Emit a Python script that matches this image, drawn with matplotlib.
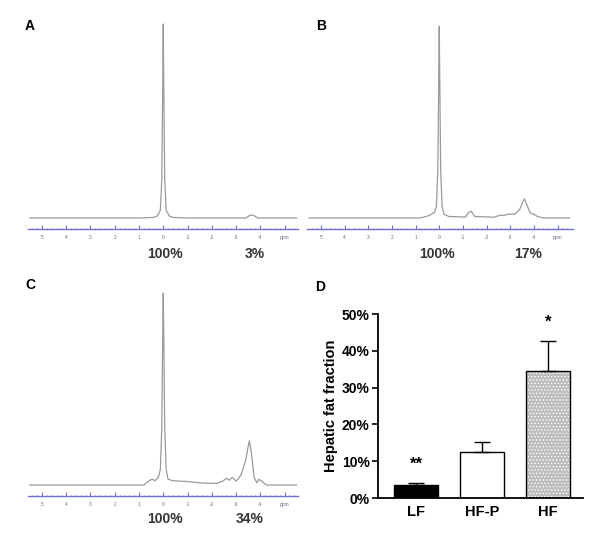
import numpy as np
import matplotlib.pyplot as plt

plt.rcParams['font.family'] = ['Liberation Sans', 'DejaVu Sans']
plt.rcParams['hatch.linewidth'] = 0.6

# spectra: (ppm, intensity relative to water peak)
ppm_a = [5.5, 1.0, 0.4, 0.25, 0.12, 0.06, 0.02, 0.0, -0.02, -0.06, -0.12, -0.25, -0.4, -1.0,
         -3.4, -3.55, -3.65, -3.75, -3.9, -5.5]
int_a = [0.0, 0.0, 0.003, 0.01, 0.04, 0.2, 0.7, 1.0, 0.7, 0.2, 0.04, 0.01, 0.003, 0.0,
         0.0, 0.012, 0.016, 0.012, 0.0, 0.0]

ppm_b = [5.5, 0.8, 0.5, 0.35, 0.2, 0.12, 0.06, 0.02, 0.0, -0.02, -0.06, -0.12, -0.2, -0.4,
         -1.1, -1.25, -1.35, -1.5, -2.3, -2.6, -2.75, -2.9, -3.2, -3.4, -3.5, -3.6, -3.7,
         -3.85, -4.0, -4.15, -4.4, -5.5]
int_b = [0.0, 0.0, 0.01, 0.018, 0.03, 0.06, 0.25, 0.75, 1.0, 0.75, 0.25, 0.06, 0.02, 0.008,
         0.005, 0.03, 0.035, 0.008, 0.004, 0.015, 0.013, 0.02, 0.02, 0.045, 0.075, 0.1, 0.07,
         0.025, 0.02, 0.008, 0.0, 0.0]

ppm_c = [5.5, 0.8, 0.55, 0.45, 0.35, 0.2, 0.12, 0.06, 0.02, 0.0, -0.02, -0.06, -0.12, -0.2,
         -0.4, -1.0, -1.6, -2.2, -2.45, -2.6, -2.72, -2.85, -3.0, -3.2, -3.4, -3.5, -3.55,
         -3.62, -3.75, -3.85, -3.95, -4.05, -4.25, -5.5]
int_c = [0.0, 0.0, 0.025, 0.03, 0.022, 0.04, 0.08, 0.3, 0.8, 1.0, 0.8, 0.3, 0.08, 0.03,
         0.022, 0.018, 0.01, 0.008, 0.02, 0.035, 0.025, 0.04, 0.02, 0.05, 0.13, 0.2, 0.23,
         0.18, 0.04, 0.012, 0.03, 0.02, 0.0, 0.0]

ppm_ticks = [5, 4, 3, 2, 1, 0, -1, -2, -3, -4, -5]
ppm_labels = ['5', '4', '3', '2', '1', '0', '-1', '-2', '-3', '-4', 'ppm']

# bar chart
groups = ['LF', 'HF-P', 'HF']
fat_mean = [3.4, 12.4, 34.6]
fat_err = [0.8, 2.7, 8.1]
stars = ['**', '', '*']

fig = plt.figure(figsize=(6, 5.38), dpi=100)
H = 538.0

blue = '#6f6fd8'
trace = '#9a9a9a'


def spectrum(x0, x1, y_axis, y_base, y_peak, ppm, inten, pcts, pct_x, pct_y):
    unit = y_base - y_peak
    lo = -(y_axis - y_base) / unit
    top = y_peak - 6
    ax = fig.add_axes([x0 / 600, (H - y_axis) / H, (x1 - x0) / 600, (y_axis - top) / H])
    ax.plot(ppm, inten, color=trace, lw=0.9)
    ax.set_ylim(lo, (y_base - top) / unit)
    for s in ['top', 'right', 'left']:
        ax.spines[s].set_visible(False)
    ax.spines['bottom'].set_color(blue)
    ax.spines['bottom'].set_linewidth(1.0)
    ax.set_yticks([])
    ax.set_xticks(ppm_ticks)
    ax.set_xticklabels(ppm_labels, fontsize=3.5, color='#6a6a8a')
    ax.set_xticks(np.arange(-5.4, 5.5, 0.2), minor=True)
    ax.tick_params(axis='x', which='major', direction='in', length=3, color=blue, pad=4)
    ax.tick_params(axis='x', which='minor', direction='in', length=1, color=blue)
    for t, px in zip(pcts, pct_x):
        fig.text(px / 600, 1 - pct_y / H, t, fontsize=10, fontweight='bold', ha='center',
                 va='center', color='#333333')
    return ax


axA = spectrum(28, 298, 229, 218, 24, ppm_a, int_a, ['100%', '3%'], [165, 255], 254)
axA.set_xlim(5 + (42 - 28) / 24.3, -(298 - 163) / 24.3)
axB = spectrum(307, 573, 229, 218, 26, ppm_b, int_b, ['100%', '17%'], [437, 528], 254)
axB.set_xlim(5 + (321 - 307) / 23.7, -(573 - 439) / 23.7)
axC = spectrum(28, 298, 496, 485, 293, ppm_c, int_c, ['100%', '34%'], [165, 250], 519)
axC.set_xlim(5 + (42 - 28) / 24.3, -(298 - 163) / 24.3)

# panel letters
for letter, px, py in [('A', 30, 26), ('B', 321, 26), ('C', 30, 285), ('D', 320, 287)]:
    fig.text(px / 600, 1 - py / H, letter, fontsize=10, fontweight='bold', ha='center', va='center')

# panel D
axD = fig.add_axes([378 / 600, (H - 498) / H, 205 / 600, 184 / H])
x = np.arange(len(groups))
faces = ['black', 'white', '#bdbdbd']
for i in range(len(groups)):
    if i == 2:
        axD.bar(x[i], fat_mean[i], width=0.67, color=faces[i], edgecolor='white', linewidth=0,
                hatch='.....')
        axD.bar(x[i], fat_mean[i], width=0.67, fill=False, edgecolor='black', linewidth=1.0)
    else:
        axD.bar(x[i], fat_mean[i], width=0.67, color=faces[i], edgecolor='black', linewidth=1.0)
    axD.errorbar(x[i], fat_mean[i], yerr=[[0], [fat_err[i]]], fmt='none', ecolor='black',
                 elinewidth=1.0, capsize=6, capthick=1.0)
    if stars[i]:
        axD.text(x[i], fat_mean[i] + fat_err[i] + 5, stars[i], ha='center', va='center',
                 fontsize=12, fontweight='bold')
axD.set_xlim(-0.58, 2.53)
axD.set_ylim(0, 50)
axD.set_yticks([0, 10, 20, 30, 40, 50])
axD.set_yticklabels(['0%', '10%', '20%', '30%', '40%', '50%'], fontsize=10, fontweight='bold')
axD.set_xticks(x)
axD.set_xticklabels(groups, fontsize=10.5, fontweight='bold')
axD.tick_params(axis='x', length=0, pad=5)
axD.tick_params(axis='y', length=4, width=1.2, pad=2)
axD.spines['top'].set_visible(False)
axD.spines['right'].set_visible(False)
axD.spines['left'].set_linewidth(1.3)
axD.spines['bottom'].set_linewidth(1.3)
axD.set_ylabel('Hepatic fat fraction', fontsize=10.5, fontweight='bold', labelpad=3)
# stars sit above the axis top, keep them visible
for t in axD.texts:
    t.set_clip_on(False)

fig.savefig('out.png', dpi=100)
